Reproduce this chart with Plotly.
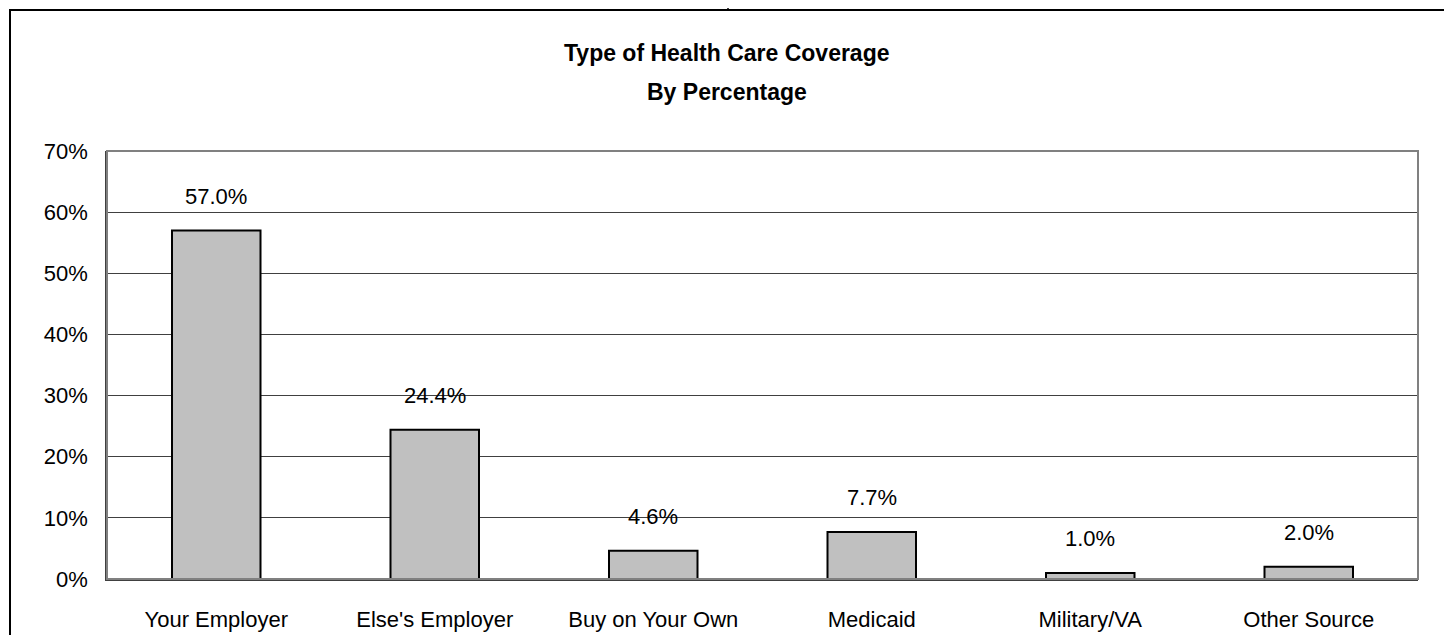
import plotly.graph_objects as go

categories = ["Your Employer", "Else's Employer", "Buy on Your Own", "Medicaid", "Military/VA", "Other Source"]
values = [0.570, 0.244, 0.046, 0.077, 0.010, 0.020]
value_labels = ["57.0%", "24.4%", "4.6%", "7.7%", "1.0%", "2.0%"]
title_lines = ["Type of Health Care Coverage", "By Percentage"]
tick_vals = [0, 0.1, 0.2, 0.3, 0.4, 0.5, 0.6, 0.7]
tick_text = ["0%", "10%", "20%", "30%", "40%", "50%", "60%", "70%"]

FONT = "Liberation Sans, Arial, sans-serif"

# page has an 8px body margin; positions below are in figure pixels
OFF = 8
W, H = 1452, 635
ML, MT = 107 - OFF, 151 - OFF
MR = W - (1418 - OFF)
MB = H - (579 - OFF)

fig = go.Figure()
fig.add_trace(go.Bar(
    x=categories, y=values,
    marker=dict(color="#C0C0C0", line=dict(color="black", width=2)),
    width=0.405,
    hoverinfo="skip",
))

for c, v, t in zip(categories, values, value_labels):
    fig.add_annotation(x=c, y=v, text=t, showarrow=False, yanchor="middle",
                       yshift=34, font=dict(family=FONT, size=22, color="black"))

pw = W - ML - MR
ph = H - MT - MB
def px_x(px):
    return (px - OFF - ML) / pw
def px_y(py):
    return (H - MB - (py - OFF)) / ph

fig.add_annotation(xref="paper", yref="paper", x=px_x(727), y=px_y(53),
                   text="<b>" + title_lines[0] + "</b>", showarrow=False, yanchor="middle",
                   font=dict(family=FONT, size=23, color="black"))
fig.add_annotation(xref="paper", yref="paper", x=px_x(727), y=px_y(92),
                   text="<b>" + title_lines[1] + "</b>", showarrow=False, yanchor="middle",
                   font=dict(family=FONT, size=23, color="black"))

fig.add_shape(type="rect", xref="paper", yref="paper", x0=0, x1=1, y0=0, y1=1,
              line=dict(color="#808080", width=2), layer="above")
fig.add_shape(type="rect", xref="paper", yref="paper",
              x0=px_x(10), x1=px_x(1447), y0=px_y(680), y1=px_y(10),
              line=dict(color="black", width=2), layer="above")
fig.add_shape(type="line", xref="paper", yref="paper",
              x0=px_x(728), x1=px_x(728), y0=px_y(10), y1=px_y(-5),
              line=dict(color="black", width=1.5), layer="above")

fig.update_layout(
    width=W, height=H,
    margin=dict(l=ML, r=MR, t=MT, b=MB),
    paper_bgcolor="white", plot_bgcolor="white",
    showlegend=False,
    bargap=0.595,
    font=dict(family=FONT, size=22, color="black"),
)
fig.update_xaxes(
    showline=True, linecolor="#404040", linewidth=1.5,
    showgrid=False, ticks="", ticklabelstandoff=20,
    tickfont=dict(family=FONT, size=22, color="black"),
)
fig.update_yaxes(
    range=[0, 0.7], tickvals=tick_vals, ticktext=tick_text,
    showgrid=True, gridcolor="#404040", gridwidth=1,
    showline=True, linecolor="#404040", linewidth=1.5,
    ticks="", ticklabelstandoff=13, zeroline=False,
    tickfont=dict(family=FONT, size=22, color="black"),
)

fig.write_html("out.html")
